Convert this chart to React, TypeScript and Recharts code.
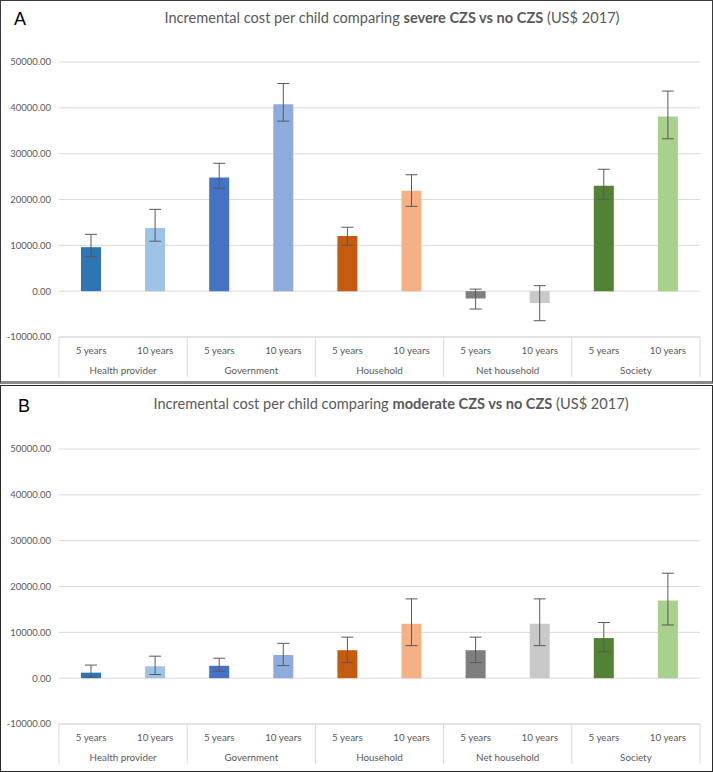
import React from "react";
import { BarChart, Bar, XAxis, YAxis, CartesianGrid, Cell, ErrorBar } from "recharts";

const categories = ["Health provider", "Government", "Household", "Net household", "Society"];
const periods = ["5 years", "10 years"];
const colors = ["#2E75B6", "#9DC3E6", "#4472C4", "#8FAADC", "#C55A11", "#F4B183", "#7F7F7F", "#C9C9C9", "#548235", "#A9D18E"];

const severeValues = [9600, 13800, 24800, 40800, 12050, 21900, -1600, -2600, 23000, 38100];
const severeLow = [7550, 10900, 22450, 37100, 10000, 18500, -3900, -6450, 20050, 33250];
const severeHigh = [12400, 17850, 27900, 45300, 13950, 25400, 450, 1200, 26600, 43650];

const moderateValues = [1200, 2600, 2700, 5050, 6100, 11900, 6100, 11900, 8750, 16950];
const moderateLow = [200, 800, 1500, 2750, 3400, 7100, 3400, 7100, 5800, 11600];
const moderateHigh = [2850, 4800, 4350, 7600, 8950, 17300, 8950, 17300, 12150, 22900];

const yTicks = [-10000, 0, 10000, 20000, 30000, 40000, 50000];

const FONT = "Lato, 'Open Sans', sans-serif";
const GREY = "#595959";

function buildRows(values: number[], low: number[], high: number[]) {
  return values.map((v, i) => ({
    id: i,
    group: categories[Math.floor(i / 2)],
    period: periods[i % 2],
    value: v,
    err: [v - low[i], high[i] - v],
  }));
}

const severeRows = buildRows(severeValues, severeLow, severeHigh);
const moderateRows = buildRows(moderateValues, moderateLow, moderateHigh);

function makeTick(rows: any[]) {
  return (props: any) => {
    const { x, y, payload, index } = props;
    const half = payload && typeof payload.offset === "number" && payload.offset > 0 ? payload.offset : 32;
    const top = y - 8;
    const row = rows[index];
    const first = index % 2 === 0;
    const last = index === rows.length - 1;
    return (
      <g>
        <text x={x} y={top + 17} textAnchor="middle" fontSize={9.8} fill={GREY} fontFamily={FONT}>
          {row ? row.period : payload.value}
        </text>
        {first && (
          <>
            <line x1={x - half} x2={x - half} y1={top} y2={top + 40} stroke="#D9D9D9" strokeWidth={1} />
            <text x={x + half} y={top + 37} textAnchor="middle" fontSize={9.8} fill={GREY} fontFamily={FONT}>
              {row.group}
            </text>
          </>
        )}
        {last && <line x1={x + half} x2={x + half} y1={top} y2={top + 40} stroke="#D9D9D9" strokeWidth={1} />}
      </g>
    );
  };
}

function Panel({ rows, top }: { rows: any[]; top: number }) {
  return (
    <div style={{ position: "absolute", left: 0, top, width: 713, height: 386 }}>
      <BarChart
        width={713}
        height={386}
        data={rows}
        margin={{ top: 62, right: 13, bottom: 4, left: 0 }}
        barSize={20}
      >
        <CartesianGrid vertical={false} stroke="#D9D9D9" />
        <XAxis
          dataKey="period"
          axisLine={{ stroke: "#D9D9D9" }}
          tickLine={false}
          height={45}
          interval={0}
          tick={makeTick(rows)}
        />
        <YAxis
          type="number"
          domain={[-10000, 50000]}
          ticks={yTicks}
          width={59}
          axisLine={false}
          tickLine={false}
          tick={{ fontSize: 9.5, fill: GREY, fontFamily: FONT }}
          tickFormatter={(v: number) => v.toFixed(2)}
        />
        <Bar dataKey="value" isAnimationActive={false}>
          {rows.map((r, i) => (
            <Cell key={r.id} fill={colors[i]} />
          ))}
          <ErrorBar dataKey="err" width={6} stroke="#595959" strokeWidth={1} />
        </Bar>
      </BarChart>
    </div>
  );
}

const titleStyle: React.CSSProperties = {
  position: "absolute",
  transform: "translateX(-50%)",
  whiteSpace: "nowrap",
  fontFamily: FONT,
  fontSize: 14.6,
  color: GREY,
};

const letterStyle: React.CSSProperties = {
  position: "absolute",
  fontFamily: "'Liberation Sans', Arial, sans-serif",
  fontSize: 18,
  color: "#000",
};

export default function App() {
  return (
    <div style={{ position: "absolute", left: 0, top: 0, width: 713, height: 772, background: "#fff", overflow: "hidden" }}>
      <div style={{ position: "absolute", left: 0, top: 0, width: 713, height: 384, boxSizing: "border-box", border: "1px solid #3a3a3a", borderBottom: "3px solid #8a8a8a" }} />
      <div style={{ position: "absolute", left: 0, top: 385, width: 713, height: 387, boxSizing: "border-box", border: "1.5px solid #2a2a2a" }} />
      <Panel rows={severeRows} top={0} />
      <Panel rows={moderateRows} top={387} />
      <div style={{ ...letterStyle, left: 14, top: 9 }}>A</div>
      <div style={{ ...letterStyle, left: 18, top: 396 }}>B</div>
      <div style={{ ...titleStyle, left: 392, top: 9 }}>
        Incremental cost per child comparing <b>severe CZS vs no CZS</b> (US$ 2017)
      </div>
      <div style={{ ...titleStyle, left: 391, top: 395 }}>
        Incremental cost per child comparing <b>moderate CZS vs no CZS</b> (US$ 2017)
      </div>
    </div>
  );
}
